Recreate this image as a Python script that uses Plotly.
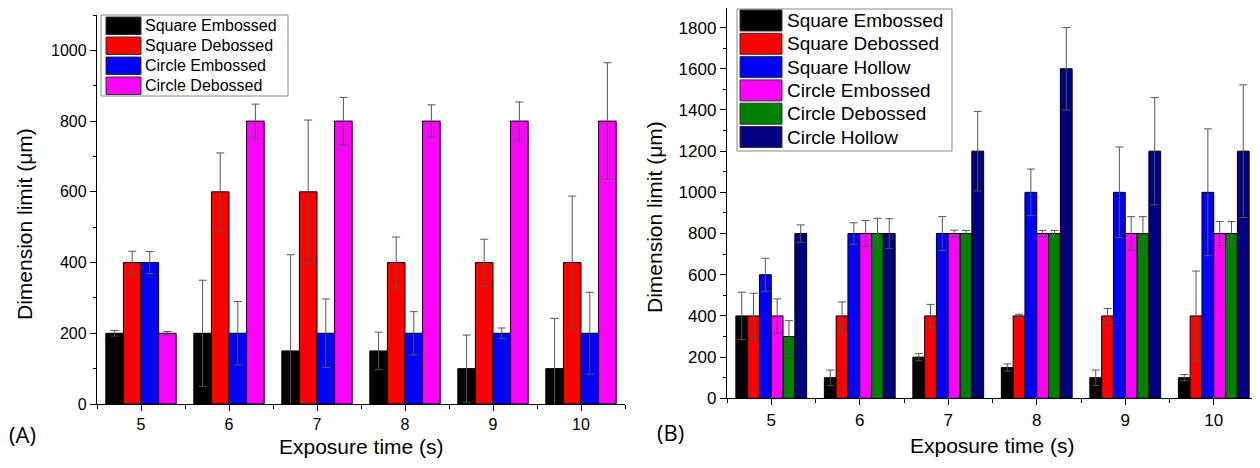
import plotly.graph_objects as go

# The page body has an 8px default margin; size the figure so the whole page is 1260x468
OFF = 8
W, H = 1260 - 2 * OFF, 468 - 2 * OFF

# ---------------- data ----------------
times = [5, 6, 7, 8, 9, 10]

# Panel A
a_names = ["Square Embossed", "Square Debossed", "Circle Embossed", "Circle Debossed"]
a_colors = ["#000000", "#ff0000", "#0000ff", "#ff00ff"]
a_sq_emb = [200, 200, 150, 150, 100, 100]
a_sq_emb_err = [8, 150, 272, 53, 95, 142]
a_sq_deb = [400, 600, 600, 400, 400, 400]
a_sq_deb_err = [32, 110, 203, 72, 66, 188]
a_ci_emb = [400, 200, 200, 200, 200, 200]
a_ci_emb_err = [31, 90, 97, 61, 15, 116]
a_ci_deb = [200, 800, 800, 800, 800, 800]
a_ci_deb_err = [5, 48, 67, 46, 54, 165]

# Panel B
b_names = ["Square Embossed", "Square Debossed", "Square Hollow",
           "Circle Embossed", "Circle Debossed", "Circle Hollow"]
b_colors = ["#000000", "#ff0000", "#0000ff", "#ff00ff", "#008000", "#000080"]
b_sq_emb = [400, 100, 200, 150, 100, 100]
b_sq_emb_err = [115, 37, 18, 17, 37, 15]
b_sq_deb = [400, 400, 400, 400, 400, 400]
b_sq_deb_err = [110, 68, 56, 8, 36, 218]
b_sq_hol = [600, 800, 800, 1000, 1000, 1000]
b_sq_hol_err = [80, 52, 82, 113, 220, 308]
b_ci_emb = [400, 800, 800, 800, 800, 800]
b_ci_emb_err = [83, 63, 16, 15, 82, 58]
b_ci_deb = [300, 800, 800, 800, 800, 800]
b_ci_deb_err = [77, 74, 15, 15, 82, 58]
b_ci_hol = [800, 800, 1200, 1600, 1200, 1200]
b_ci_hol_err = [42, 72, 193, 200, 260, 322]

a_series = [a_sq_emb, a_sq_deb, a_ci_emb, a_ci_deb]
a_errs = [a_sq_emb_err, a_sq_deb_err, a_ci_emb_err, a_ci_deb_err]
b_series = [b_sq_emb, b_sq_deb, b_sq_hol, b_ci_emb, b_ci_deb, b_ci_hol]
b_errs = [b_sq_emb_err, b_sq_deb_err, b_sq_hol_err, b_ci_emb_err, b_ci_deb_err, b_ci_hol_err]

FONT = "Liberation Sans, Arial, sans-serif"


def px(x):
    return min(1.0, max(0.0, (x - OFF) / W))


def py(y):
    return min(1.0, max(0.0, 1 - (y - OFF) / H))


fig = go.Figure()

for name, col, vals, err in zip(a_names, a_colors, a_series, a_errs):
    fig.add_trace(go.Bar(
        x=times, y=vals, name=name, xaxis="x", yaxis="y",
        marker=dict(color=col, line=dict(color="#000000", width=1)),
        error_y=dict(type="data", array=err, color="#555555", thickness=1, width=4),
        showlegend=False,
    ))

for name, col, vals, err in zip(b_names, b_colors, b_series, b_errs):
    fig.add_trace(go.Bar(
        x=times, y=vals, name=name, xaxis="x2", yaxis="y2",
        marker=dict(color=col, line=dict(color="#000000", width=1)),
        error_y=dict(type="data", array=err, color="#555555", thickness=1, width=4),
        showlegend=False,
    ))

axis_common = dict(
    showline=True, linecolor="#000000", linewidth=1.3, mirror=False,
    showgrid=False, zeroline=False, ticks="outside", ticklen=6, tickwidth=1,
    tickcolor="#000000", automargin=False,
)

# right panel: x axis ends at page edge (1252) instead of 1258; keep category spacing (88.4 px)
x2_right_end = 10.5 - (1258 - 1252) / 88.4

fig.update_layout(
    width=W, height=H,
    margin=dict(l=0, r=0, t=0, b=0, autoexpand=False),
    paper_bgcolor="white", plot_bgcolor="white",
    barmode="group", bargap=0.2, bargroupgap=0,
    showlegend=False,
    font=dict(family=FONT, color="#000000"),
    xaxis=dict(
        domain=[px(97), px(625)], anchor="y", range=[4.5, 10.5],
        tickmode="linear", tick0=5, dtick=1,
        minor=dict(ticks="outside", dtick=0.5, tick0=4.5, ticklen=4, tickcolor="#000000"),
        tickfont=dict(size=16, family=FONT), **axis_common,
    ),
    yaxis=dict(
        domain=[py(404), py(15)], anchor="x", range=[0, 1100],
        tickmode="linear", tick0=0, dtick=200,
        minor=dict(ticks="outside", dtick=100, ticklen=3, tickcolor="#000000"),
        tickfont=dict(size=16, family=FONT), **axis_common,
    ),
    xaxis2=dict(
        domain=[px(727), 1.0], anchor="y2", range=[4.5, x2_right_end],
        tickmode="linear", tick0=5, dtick=1,
        minor=dict(ticks="outside", dtick=0.5, tick0=4.5, ticklen=4, tickcolor="#000000"),
        tickfont=dict(size=17, family=FONT), **axis_common,
    ),
    yaxis2=dict(
        domain=[py(398.3), 1.0], anchor="x2", range=[0, 1895],
        tickmode="linear", tick0=0, dtick=200,
        minor=dict(ticks="outside", dtick=100, ticklen=3, tickcolor="#000000"),
        tickfont=dict(size=17, family=FONT), **axis_common,
    ),
)

annotations = []
shapes = []

# axis titles
annotations.append(dict(text="Exposure time (s)", x=px(361), y=py(446), xref="paper", yref="paper",
                        showarrow=False, font=dict(size=21, family=FONT), xanchor="center", yanchor="middle"))
annotations.append(dict(text="Exposure time (s)", x=px(992), y=py(445), xref="paper", yref="paper",
                        showarrow=False, font=dict(size=21, family=FONT), xanchor="center", yanchor="middle"))
annotations.append(dict(text="Dimension limit (μm)", x=px(24), y=py(224), xref="paper", yref="paper",
                        showarrow=False, textangle=-90, font=dict(size=21, family=FONT),
                        xanchor="center", yanchor="middle"))
annotations.append(dict(text="Dimension limit (μm)", x=px(654), y=py(217), xref="paper", yref="paper",
                        showarrow=False, textangle=-90, font=dict(size=21, family=FONT),
                        xanchor="center", yanchor="middle"))
# panel labels
annotations.append(dict(text="(A)", x=px(22), y=py(434), xref="paper", yref="paper",
                        showarrow=False, font=dict(size=22, family="Open Sans, sans-serif"),
                        xanchor="center", yanchor="middle"))
annotations.append(dict(text="(B)", x=px(671), y=py(432), xref="paper", yref="paper",
                        showarrow=False, font=dict(size=22, family="Open Sans, sans-serif"),
                        xanchor="center", yanchor="middle"))


def legend(names, colors, box, sw_x0, sw_x1, row_y0, row_h, sw_h, text_x, fsize):
    x0, y0, x1, y1 = box
    shapes.append(dict(type="rect", xref="paper", yref="paper",
                       x0=px(x0), x1=px(x1), y0=py(y1), y1=py(y0),
                       line=dict(color="#888888", width=1), fillcolor="white", layer="above"))
    for i, (n, c) in enumerate(zip(names, colors)):
        top = row_y0 + i * row_h
        shapes.append(dict(type="rect", xref="paper", yref="paper",
                           x0=px(sw_x0), x1=px(sw_x1), y0=py(top + sw_h), y1=py(top),
                           line=dict(color="#333333", width=1), fillcolor=c, layer="above"))
        annotations.append(dict(text=n, x=px(text_x), y=py(top + sw_h / 2), xref="paper", yref="paper",
                                showarrow=False, font=dict(size=fsize, family=FONT),
                                xanchor="left", yanchor="middle"))


legend(a_names, a_colors, (101, 15, 288, 96), 106, 141, 17, 20, 17.5, 143, 16)
legend(b_names, b_colors, (737, 9, 952, 151), 740, 782, 10, 23.3, 21, 785, 19)

fig.update_layout(annotations=annotations, shapes=shapes)

fig.write_html("out.html")
